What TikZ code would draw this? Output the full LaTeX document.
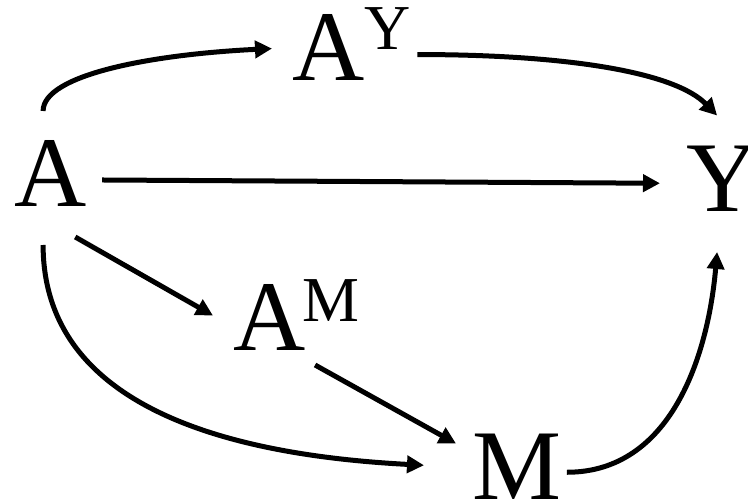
\documentclass[tikz,border=0pt]{standalone}
\usepackage{fontspec}
\setmainfont{Liberation Serif}
\usetikzlibrary{arrows.meta}
\newcommand{\supscr}[3]{#1\raisebox{#3}{\fontsize{64}{64}\selectfont #2}}

\begin{document}
\begin{tikzpicture}[x=1pt,y=1pt,
    var/.style={anchor=base west, inner sep=0pt, outer sep=0pt, font=\fontsize{100}{100}\selectfont},
    edge/.style={line width=5pt, -{Triangle[length=17pt,width=17pt]}}]
    \useasboundingbox (0,0) rectangle (748,504);

    \node[var] (A) at (14,297) {A};
    \node[var] (AY) at (292,423) {\supscr{A}{Y}{31pt}};
    \node[var] (Y) at (686,292) {Y};
    \node[var] (AM) at (233,153) {\supscr{A}{\kern-3ptM}{29pt}};
    \node[var] (M) at (472,5) {M};

    \draw[edge] ([xshift=-7pt,yshift=30pt]A.north) .. controls +(0,36) and +(-122,-6) .. ([xshift=-20pt,yshift=-4pt]AY.west);
    \draw[edge] ([xshift=7pt,yshift=-10pt]AY.east) .. controls +(152,0) and +(-42,43) .. ([xshift=-5pt,yshift=31pt]Y.north);
    \draw[edge] ([xshift=16pt,yshift=-6pt]A.east) -- ([xshift=-26pt,yshift=-4pt]Y.west);
    \draw[edge] ([xshift=-11pt,yshift=-30pt]A.south east) -- ([xshift=-20pt]AM.west);
    \draw[edge] ([xshift=19pt,yshift=-14pt]AM.south) -- ([xshift=-16pt,yshift=-10pt]M.north west);
    \draw[edge] ([xshift=-7pt,yshift=-38pt]A.south) to[out=-90,in=177] ([xshift=-48pt,yshift=1pt]M.west);
    \draw[edge] ([xshift=6pt,yshift=-6pt]M.east) to[out=0,in=-95] ([xshift=-5pt,yshift=-40pt]Y.south);
\end{tikzpicture}
\end{document}
